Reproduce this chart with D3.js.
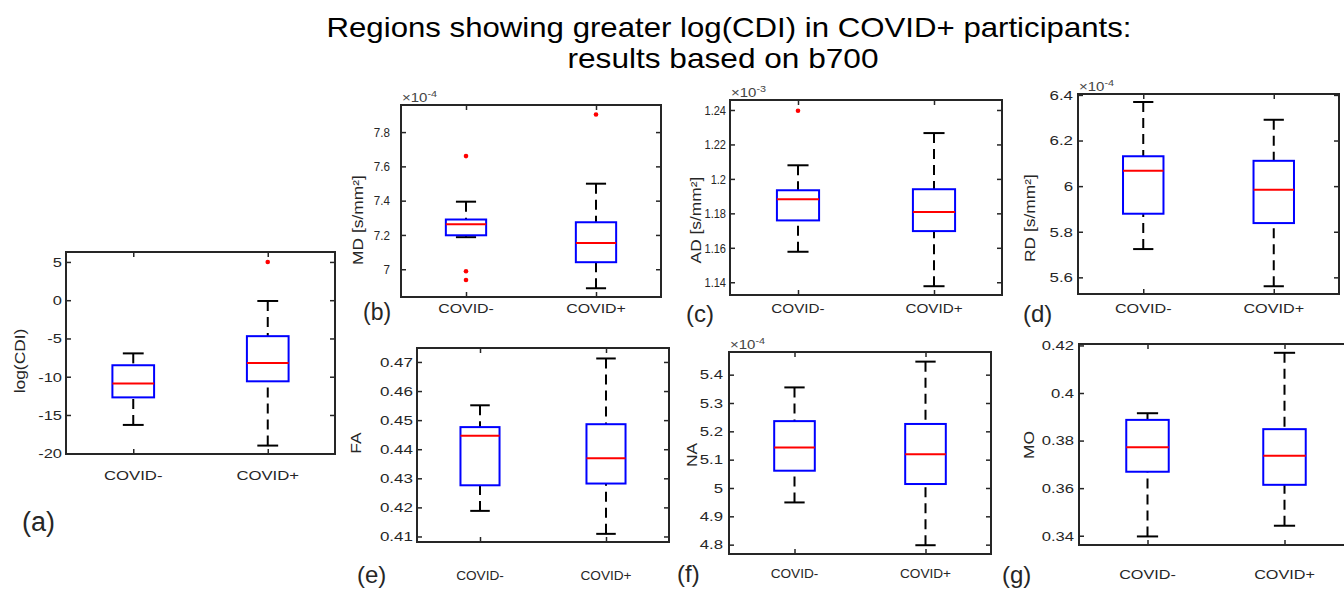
<!DOCTYPE html>
<html>
<head>
<meta charset="utf-8">
<script src="https://cdn.jsdelivr.net/npm/d3@7"></script>
<style>
  body { margin: 0; background: #fff; }
  svg { display: block; font-family: "Liberation Sans", Arial, sans-serif; }
</style>
</head>
<body>
<div id="chart"></div>
<script>
// groups on the x axis
const groups = ["COVID-", "COVID+"];
const panelTags = ["(a)", "(b)", "(c)", "(d)", "(e)", "(f)", "(g)"];
const measureLabels = ["log(CDI)", "MD [s/mm²]", "AD [s/mm²]", "RD [s/mm²]", "FA", "NA", "MO"];
const exponents = [null, -4, -3, -4, null, -4, null];

// box stats per group: [whisker low, q1, median, q3, whisker high]
const cdiBox = [[-16.3, -12.7, -10.9, -8.5, -6.95], [-19.0, -10.6, -8.2, -4.7, -0.1]];
const cdiOut = [[], [5.0]];
const mdBox = [[7.187, 7.198, 7.262, 7.29, 7.394], [6.889, 7.041, 7.153, 7.274, 7.499]];
const mdOut = [[7.66, 6.988, 6.937], [7.903]];
const adBox = [[1.1577, 1.1759, 1.1882, 1.1934, 1.2079], [1.1377, 1.1697, 1.1808, 1.194, 1.2266]];
const adOut = [[1.2396], []];
const rdBox = [[5.724, 5.879, 6.067, 6.131, 6.369], [5.561, 5.838, 5.984, 6.111, 6.291]];
const faBox = [[0.4188, 0.4276, 0.4446, 0.4476, 0.4551], [0.4109, 0.4282, 0.4369, 0.4486, 0.4712]];
const naBox = [[4.949, 5.061, 5.143, 5.236, 5.355], [4.798, 5.014, 5.119, 5.226, 5.446]];
const moBox = [[0.3397, 0.3669, 0.3772, 0.3887, 0.3915], [0.3442, 0.3614, 0.3736, 0.3848, 0.4169]];
const noOut = [[], []];

// y limits and tick labels
const yLimits = [[-20.1, 6.3], [6.838, 7.958], [1.1326, 1.2458], [5.527, 6.404], [0.4081, 0.4748], [4.767, 5.48], [0.3361, 0.4206]];
const cdiTicks = [-20, -15, -10, -5, 0, 5];
const mdTicks = [7, 7.2, 7.4, 7.6, 7.8];
const adTicks = [1.14, 1.16, 1.18, 1.2, 1.22, 1.24];
const rdTicks = [5.6, 5.8, 6, 6.2, 6.4];
const faTicks = [0.41, 0.42, 0.43, 0.44, 0.45, 0.46, 0.47];
const naTicks = [4.8, 4.9, 5, 5.1, 5.2, 5.3, 5.4];
const moTicks = [0.34, 0.36, 0.38, 0.4, 0.42];

const boxes = [cdiBox, mdBox, adBox, rdBox, faBox, naBox, moBox];
const outliers = [cdiOut, mdOut, adOut, noOut, noOut, noOut, noOut];
const ticks = [cdiTicks, mdTicks, adTicks, rdTicks, faTicks, naTicks, moTicks];

// panel frames in pixels + where the loose labels sit
// tsx / csx: horizontal squeeze of tick and group labels (sub-figures were pasted at different scales)
const frames = [
  {x: 66, y: 252, w: 269, h: 202, pad: 4, tsx: 1.22, csx: 1.24, catY: 480, tagX: 22, tagY: 531, tagS: 27, labX: 20, labY: 361},
  {x: 401, y: 105, w: 260, h: 192, pad: 11, tsx: 0.86, csx: 1.18, catY: 313, tagX: 363, tagY: 320, tagS: 23, labX: 358, labY: 220},
  {x: 730, y: 100, w: 272, h: 195, pad: 4, tsx: 0.82, csx: 1.13, catY: 313, tagX: 686, tagY: 322, tagS: 24, labX: 696, labY: 220},
  {x: 1078, y: 94, w: 261, h: 200, pad: 5, tsx: 1.25, csx: 1.2, catY: 313, tagX: 1023, tagY: 322, tagS: 24, labX: 1030, labY: 218},
  {x: 417, y: 348, w: 252, h: 194, pad: 4, tsx: 1.26, csx: 1.01, catY: 580, tagX: 357, tagY: 583, tagS: 24, labX: 356, labY: 443},
  {x: 729, y: 352, w: 262, h: 202, pad: 6, tsx: 1.24, csx: 1.01, catY: 578, tagX: 677, tagY: 582, tagS: 24, labX: 692, labY: 455},
  {x: 1079, y: 344, w: 274, h: 201, pad: 5, tsx: 1.23, csx: 1.2, catY: 579, tagX: 1002, tagY: 583, tagS: 24, labX: 1029, labY: 445}
];

const ink = "#262626";
const fmt = d => String(+d.toFixed(4));

const svg = d3.select("#chart").append("svg")
  .attr("width", 1344).attr("height", 589);

function label(g, x, y, str, size, anchor, sx, rot) {
  return g.append("text")
    .attr("transform", `translate(${x},${y})` + (rot ? " rotate(-90)" : "") + ` scale(${sx},1)`)
    .attr("text-anchor", anchor)
    .style("font-size", size + "px")
    .attr("fill", ink)
    .text(str);
}

// title
svg.append("text").attr("x", 729).attr("y", 37).attr("text-anchor", "middle")
  .style("font-size", "28px").attr("textLength", 805).attr("lengthAdjust", "spacingAndGlyphs")
  .text("Regions showing greater log(CDI) in COVID+ participants:");
svg.append("text").attr("x", 723).attr("y", 68).attr("text-anchor", "middle")
  .style("font-size", "28px").attr("textLength", 311).attr("lengthAdjust", "spacingAndGlyphs")
  .text("results based on b700");

frames.forEach((f, i) => {
  const g = svg.append("g");
  const y = d3.scaleLinear().domain(yLimits[i]).range([f.y + f.h, f.y]);
  const x = d3.scalePoint().domain(groups).range([f.x, f.x + f.w]).padding(0.5);

  // inward ticks on all four sides
  const left = g.append("g").attr("transform", `translate(${f.x},0)`)
    .call(d3.axisLeft(y).tickValues(ticks[i]).tickFormat(fmt).tickSizeInner(-5).tickSizeOuter(0).tickPadding(f.pad));
  left.selectAll("text").attr("x", -f.pad / f.tsx).attr("transform", `scale(${f.tsx},1)`)
    .style("font-size", "13.5px").attr("fill", ink);
  g.append("g").attr("transform", `translate(${f.x + f.w},0)`)
    .call(d3.axisRight(y).tickValues(ticks[i]).tickFormat("").tickSizeInner(-5).tickSizeOuter(0));
  g.append("g").attr("transform", `translate(0,${f.y + f.h})`)
    .call(d3.axisBottom(x).tickFormat("").tickSizeInner(-5).tickSizeOuter(0));
  g.append("g").attr("transform", `translate(0,${f.y})`)
    .call(d3.axisTop(x).tickFormat("").tickSizeInner(-5).tickSizeOuter(0));
  g.selectAll(".domain").remove();
  g.selectAll(".tick line").attr("stroke", ink).attr("stroke-width", 1.5);

  g.append("rect").attr("x", f.x).attr("y", f.y).attr("width", f.w).attr("height", f.h)
    .attr("fill", "none").attr("stroke", ink).attr("stroke-width", 2);

  const bw = x.step() * 0.31;
  groups.forEach((grp, j) => {
    const [lo, q1, med, q3, hi] = boxes[i][j];
    const cx = x(grp);
    // whiskers
    [[lo, q1], [hi, q3]].forEach(([end, edge]) => {
      g.append("line").attr("x1", cx).attr("x2", cx).attr("y1", y(end)).attr("y2", y(edge))
        .attr("stroke", "#000").attr("stroke-width", 2).attr("stroke-dasharray", "10,6");
      g.append("line").attr("x1", cx - bw / 4).attr("x2", cx + bw / 4).attr("y1", y(end)).attr("y2", y(end))
        .attr("stroke", "#000").attr("stroke-width", 2);
    });
    g.append("rect").attr("x", cx - bw / 2).attr("y", y(q3)).attr("width", bw).attr("height", y(q1) - y(q3))
      .attr("fill", "none").attr("stroke", "#0000ff").attr("stroke-width", 2);
    g.append("line").attr("x1", cx - bw / 2).attr("x2", cx + bw / 2).attr("y1", y(med)).attr("y2", y(med))
      .attr("stroke", "#ff0000").attr("stroke-width", 2);
    g.selectAll(null).data(outliers[i][j]).enter().append("circle")
      .attr("cx", cx).attr("cy", d => y(d)).attr("r", 2.3).attr("fill", "#ff0000");

    label(g, cx, f.catY, grp, 13.5, "middle", f.csx);
  });

  label(g, f.labX + 5, f.labY, measureLabels[i], 14.5, "middle", 1.2, true);
  label(g, f.tagX, f.tagY, panelTags[i], f.tagS, "start", 1.0);

  if (exponents[i] !== null) {
    const t = label(g, f.x + 1, f.y - 3, "×10", 12.5, "start", 1.2).attr("fill", "#444");
    t.append("tspan").attr("dy", -5).style("font-size", "9px").text(exponents[i]);
  }
});
</script>
</body>
</html>
